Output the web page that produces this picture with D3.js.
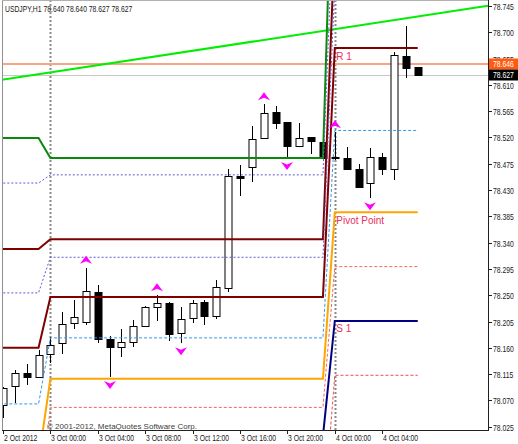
<!DOCTYPE html>
<html><head><meta charset="utf-8">
<script src="https://cdn.jsdelivr.net/npm/d3@7"></script>
<style>body{margin:0;background:#fff;} svg{display:block;}</style>
</head><body>
<script>
// ---------- DATA ----------
const symbolTitle = "USDJPY,H1  78.640 78.640 78.627 78.627";
const copyrightText = "\u00A9 2001-2012, MetaQuotes Software Corp.";
const barIndex = d3.range(36);
const opens  = [78.062,78.095,78.117,78.110,78.149,78.168,78.202,78.204,78.256,78.175,78.161,78.170,78.197,78.230,78.237,78.185,78.211,78.238,78.214,78.262,78.454,78.469,78.519,78.564,78.546,78.505,78.521,78.512,78.487,78.485,78.466,78.442,78.487,78.466,78.659,78.640];
const highs  = [78.093,78.122,78.132,78.156,78.179,78.221,78.242,78.297,78.268,78.180,78.192,78.208,78.232,78.250,78.238,78.230,78.242,78.242,78.276,78.466,78.473,78.540,78.577,78.574,78.546,78.545,78.521,78.516,78.529,78.504,78.475,78.502,78.493,78.666,78.711,78.640];
const lows   = [78.040,78.066,78.096,78.108,78.134,78.149,78.192,78.199,78.168,78.110,78.144,78.161,78.196,78.206,78.171,78.168,78.202,78.199,78.209,78.256,78.420,78.444,78.517,78.535,78.485,78.505,78.492,78.483,78.481,78.466,78.434,78.416,78.456,78.447,78.622,78.627];
const closes = [78.091,78.117,78.110,78.148,78.165,78.201,78.213,78.257,78.175,78.161,78.170,78.197,78.230,78.237,78.184,78.209,78.237,78.214,78.264,78.454,78.451,78.517,78.562,78.545,78.505,78.519,78.514,78.485,78.486,78.466,78.435,78.487,78.466,78.661,78.639,78.627];

const timeTickIndex  = [0,4,8,12,16,20,24,28,32];
const timeTickLabels = ["2 Oct 2012","3 Oct 00:00","3 Oct 04:00","3 Oct 08:00","3 Oct 12:00","3 Oct 16:00","3 Oct 20:00","4 Oct 00:00","4 Oct 04:00"];
const priceTicks = ["78.025","78.070","78.115","78.160","78.205","78.250","78.295","78.340","78.385","78.430","78.475","78.520","78.565","78.610","78.655","78.700","78.745"];

const upFractals   = [7,13,22,28];
const downFractals = [9,15,24,31];

// day segments (bar index ranges) : 2 Oct, 3 Oct, 4 Oct
const dayFirstBar = [-2, 4, 28];
const dayLastBar  = [3, 27, 35];
const separatorBars = [4, 28];

// pivot levels per day (2 Oct, 3 Oct, 4 Oct)
const levelR3   = [78.519, 78.485, 79.139];
const levelMR23 = [78.442, 78.456, 78.960];
const levelR2   = [78.329, 78.346, 78.859];
const levelMR12 = [78.254, 78.315, 78.780];
const levelR1   = [78.160, 78.247, 78.673];
const levelM3   = [78.064, 78.177, 78.532];
const levelP    = [77.968, 78.107, 78.392];
const levelM2   = [77.884, 78.058, 78.299];
const levelS1   = [77.799, 78.009, 78.206];
const levelM1   = [77.700, 77.860, 78.113];

const pivotLabelTexts = ["R 1","Pivot Point","S 1"];

const trendIdx   = [0, 35];
const trendPrice = [78.619, 78.727];
const askPrice = 78.646;
const bidPrice = 78.627;

// ---------- LAYOUT ----------
const W = 518, H = 444;
const L = 2, R = 488, T = 0, B = 430;
const x = d3.scaleLinear().domain([0, 35]).range([3, 417.75]);
const y = d3.scaleLinear().domain([78.025, 78.745]).range([426.7, 6]);
const FONT = "'Liberation Sans',Arial,sans-serif";

const svg = d3.select("body").append("svg").attr("width", W).attr("height", H)
  .style("font-family", FONT);

// squeeze text horizontally to mimic the narrow terminal font
function condense(sel, f) {
  sel.each(function() {
    const w = this.getComputedTextLength();
    d3.select(this).attr("textLength", (w * f).toFixed(2)).attr("lengthAdjust", "spacingAndGlyphs");
  });
}

svg.append("defs").append("clipPath").attr("id","plot")
  .append("rect").attr("x", L).attr("y", T).attr("width", R - L).attr("height", B - T);

const plot = svg.append("g").attr("clip-path","url(#plot)");

// day separators
plot.selectAll("line.sep").data(separatorBars).join("line")
  .attr("x1", d => Math.round(x(d)) + 0.5).attr("x2", d => Math.round(x(d)) + 0.5)
  .attr("y1", T).attr("y2", B)
  .attr("stroke", "#8a8a8a").attr("stroke-width", 2).attr("stroke-dasharray", "2,2");

// bid line & ask line
plot.append("line").attr("x1", L).attr("x2", R)
  .attr("y1", Math.round(y(bidPrice)) + 0.5).attr("y2", Math.round(y(bidPrice)) + 0.5)
  .attr("stroke", "#c8c8c8").attr("stroke-width", 1);
plot.append("line").attr("x1", L).attr("x2", R)
  .attr("y1", Math.round(y(askPrice))).attr("y2", Math.round(y(askPrice)))
  .attr("stroke", "#f7a584").attr("stroke-width", 2);

// trend line (ray)
const tSlope = (trendPrice[1] - trendPrice[0]) / (trendIdx[1] - trendIdx[0]);
plot.append("line")
  .attr("x1", x(-2)).attr("y1", y(trendPrice[0] + tSlope * (-2 - trendIdx[0])))
  .attr("x2", x(42)).attr("y2", y(trendPrice[0] + tSlope * (42 - trendIdx[0])))
  .attr("stroke", "#00ee00").attr("stroke-width", 2);

// candles
const cg = plot.append("g");
barIndex.forEach(i => {
  const cx = Math.round(x(i)) + 0.5;
  const up = closes[i] >= opens[i];
  cg.append("line").attr("x1", cx).attr("x2", cx)
    .attr("y1", Math.round(y(highs[i]))).attr("y2", Math.round(y(lows[i])))
    .attr("stroke", "#000").attr("stroke-width", 1);
  const yt = Math.round(y(Math.max(opens[i], closes[i])));
  const yb = Math.round(y(Math.min(opens[i], closes[i])));
  cg.append("rect").attr("x", cx - 3.5).attr("y", yt + 0.5)
    .attr("width", 7).attr("height", Math.max(1, yb - yt))
    .attr("fill", up ? "#fff" : "#000").attr("stroke", "#000").attr("stroke-width", 1);
});

// pivot lines
const pivotSeries = [
  {v: levelR3,   c: "#0a8a0a", w: 2, d: null},
  {v: levelMR23, c: "#5a5ad8", w: 1, d: "2,2"},
  {v: levelR2,   c: "#800000", w: 2, d: null},
  {v: levelMR12, c: "#5a5ad8", w: 1, d: "2,2"},
  {v: levelR1,   c: "#800000", w: 2, d: null},
  {v: levelM3,   c: "#3399ee", w: 1, d: "3,2"},
  {v: levelP,    c: "#ffa500", w: 2, d: null},
  {v: levelM2,   c: "#f06a5a", w: 1, d: "3,2"},
  {v: levelS1,   c: "#000080", w: 2, d: null},
  {v: levelM1,   c: "#f04a4a", w: 1, d: "3,2"}
];
const lineGen = d3.line().x(d => x(d[0])).y(d => y(d[1]));
pivotSeries.forEach(s => {
  const pts = [];
  dayFirstBar.forEach((f, k) => { pts.push([f, s.v[k]]); pts.push([dayLastBar[k], s.v[k]]); });
  plot.append("path").attr("d", lineGen(pts)).attr("fill","none")
    .attr("stroke", s.c).attr("stroke-width", s.w)
    .attr("stroke-dasharray", s.d);
});

// pivot labels
const labelLevels = [levelR1[2], levelP[2], levelS1[2]];
plot.selectAll("text.pl").data(pivotLabelTexts).join("text")
  .attr("x", x(28) + 1.5).attr("y", (d, k) => y(labelLevels[k]) + 11.5)
  .attr("fill", "#e8305a").attr("font-size", 10).text(d => d);

// fractals
const upPath = "M0,0 L6,8 L0,5.5 L-6,8 Z";
const downPath = "M0,0 L6,-8 L0,-5.5 L-6,-8 Z";
upFractals.forEach(i => {
  plot.append("path").attr("d", upPath)
    .attr("transform", `translate(${Math.round(x(i))},${y(highs[i]) - 12})`)
    .attr("fill", "#ff00ff");
});
downFractals.forEach(i => {
  plot.append("path").attr("d", downPath)
    .attr("transform", `translate(${Math.round(x(i))},${y(lows[i]) + 12})`)
    .attr("fill", "#ff00ff");
});

// frame
svg.append("line").attr("x1", L + 0.5).attr("x2", L + 0.5).attr("y1", T).attr("y2", B)
  .attr("stroke", "#909090");
svg.append("line").attr("x1", L).attr("x2", R).attr("y1", T + 0.5).attr("y2", T + 0.5)
  .attr("stroke", "#b0b0b0");
svg.append("line").attr("x1", R + 0.5).attr("x2", R + 0.5).attr("y1", T).attr("y2", B + 1)
  .attr("stroke", "#202020");
svg.append("line").attr("x1", L).attr("x2", R + 1).attr("y1", B + 0.5).attr("y2", B + 0.5)
  .attr("stroke", "#202020");

// price axis
const pa = svg.append("g");
priceTicks.forEach(t => {
  const yy = Math.round(y(+t)) + 0.5;
  pa.append("line").attr("x1", R).attr("x2", R + 4).attr("y1", yy).attr("y2", yy).attr("stroke", "#202020");
  pa.append("text").attr("class","ax").attr("x", R + 5).attr("y", yy + 3).attr("font-size", 8.5)
    .attr("fill", "#202020").text(t);
});

// price boxes
[[askPrice, "#ff5a0f"], [bidPrice, "#000000"]].forEach(([p, col]) => {
  const yy = y(p);
  pa.append("rect").attr("x", R + 1).attr("y", Math.round(yy) - 5.5).attr("width", W - R - 1).attr("height", 11)
    .attr("fill", col);
  pa.append("text").attr("class","ax").attr("x", R + 5).attr("y", Math.round(yy) + 3).attr("font-size", 8.5)
    .attr("fill", "#fff").text(p.toFixed(3));
});

// time axis
const ta = svg.append("g");
timeTickIndex.forEach((i, k) => {
  const xx = Math.round(x(i)) + 0.5;
  ta.append("line").attr("x1", xx).attr("x2", xx).attr("y1", B).attr("y2", B + 4).attr("stroke", "#202020");
  ta.append("text").attr("class","ax").attr("x", xx + 0.5).attr("y", B + 11).attr("font-size", 8.5)
    .attr("fill", "#202020").text(timeTickLabels[k]);
});

// title & copyright
svg.append("text").attr("class","ax").attr("x", 5).attr("y", 11.5).attr("font-size", 8.5).attr("fill", "#202020")
  .text(symbolTitle);
svg.append("text").attr("x", 47).attr("y", 429).attr("font-size", 8)
  .attr("fill", "#404040").text(copyrightText);

condense(svg.selectAll("text.ax"), 0.8);
</script>
</body></html>
